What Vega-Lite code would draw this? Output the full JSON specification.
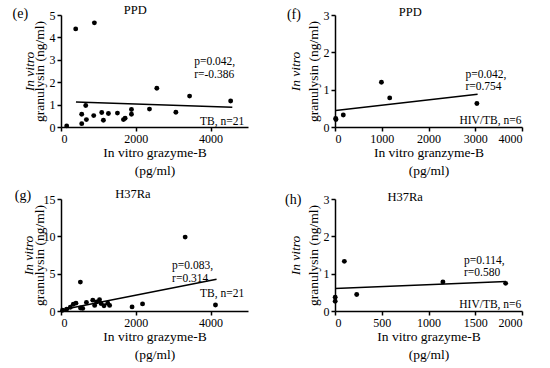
{
  "$schema": "https://vega.github.io/schema/vega-lite/v6.json",
  "background": "white",
  "padding": {"left": 12, "top": 4, "right": 5, "bottom": 5},
  "config": {
    "view": {"stroke": null},
    "font": "Liberation Serif",
    "axis": {"domainColor": "black", "domainWidth": 1.5, "tickColor": "black", "tickWidth": 1.5, "tickSize": 4, "labelColor": "black", "labelFont": "Liberation Serif", "labelFontSize": 12, "titleFont": "Liberation Serif", "titleFontSize": 13.5, "titleFontWeight": "normal", "titleColor": "black", "grid": false, "labelPadding": 2, "format": "d"},
    "text": {"font": "Liberation Serif", "color": "black", "fontSize": 11.5}
  },
  "datasets": {
    "e_pts": [
      {"x": 152, "y": 0.05}, {"x": 393, "y": 4.38}, {"x": 893, "y": 4.65}, {"x": 554, "y": 0.15}, {"x": 554, "y": 0.57},
      {"x": 661, "y": 0.96}, {"x": 679, "y": 0.33}, {"x": 875, "y": 0.51}, {"x": 1089, "y": 0.65}, {"x": 1134, "y": 0.3},
      {"x": 1268, "y": 0.6}, {"x": 1509, "y": 0.62}, {"x": 1670, "y": 0.33}, {"x": 1714, "y": 0.39}, {"x": 1884, "y": 0.78},
      {"x": 1884, "y": 0.57}, {"x": 2366, "y": 0.8}, {"x": 2562, "y": 1.73}, {"x": 3071, "y": 0.66}, {"x": 3438, "y": 1.38},
      {"x": 4536, "y": 1.16}
    ],
    "e_fit": [{"x": 400, "y": 1.12}, {"x": 4580, "y": 0.88}],
    "f_pts": [{"x": 14, "y": 0.23}, {"x": 20, "y": 0.2}, {"x": 177, "y": 0.32}, {"x": 993, "y": 1.2}, {"x": 1170, "y": 0.78}, {"x": 3035, "y": 0.63}],
    "f_fit": [{"x": 14, "y": 0.44}, {"x": 3050, "y": 0.88}],
    "g_pts": [
      {"x": 40, "y": 0.1}, {"x": 150, "y": 0.25}, {"x": 250, "y": 0.5}, {"x": 330, "y": 0.9}, {"x": 400, "y": 1.05},
      {"x": 518, "y": 3.87}, {"x": 520, "y": 0.4}, {"x": 580, "y": 0.35}, {"x": 680, "y": 1.15}, {"x": 850, "y": 1.45},
      {"x": 900, "y": 0.75}, {"x": 950, "y": 1.2}, {"x": 1030, "y": 1.5}, {"x": 1070, "y": 1.0}, {"x": 1150, "y": 0.7},
      {"x": 1250, "y": 1.05}, {"x": 1300, "y": 0.75}, {"x": 1900, "y": 0.55}, {"x": 2180, "y": 0.95}, {"x": 3320, "y": 9.9},
      {"x": 4130, "y": 0.8}
    ],
    "g_fit": [{"x": 60, "y": 0.2}, {"x": 4160, "y": 4.24}],
    "h_pts": [{"x": 2, "y": 0.37}, {"x": 2, "y": 0.26}, {"x": 100, "y": 1.33}, {"x": 232, "y": 0.44}, {"x": 1154, "y": 0.78}, {"x": 1825, "y": 0.74}],
    "h_fit": [{"x": 0, "y": 0.6}, {"x": 1830, "y": 0.79}]
  },
  "columns": 2,
  "spacing": {"row": 72, "column": 87},
  "bounds": "flush",
  "concat": [
    {
      "width": 187, "height": 112,
      "resolve": {"axis": {"y": "independent"}},
      "layer": [
        {"data": {"name": "e_pts"}, "mark": {"type": "point", "filled": true, "color": "black", "size": 24, "opacity": 1},
         "encoding": {
           "x": {"field": "x", "type": "quantitative", "scale": {"domain": [0, 5000], "nice": false}, "axis": {"values": [0, 1000, 2000, 3000, 4000, 5000], "title": ["In vitro grazyme-B", "(pg/ml)"], "titleLineHeight": 18, "titlePadding": 1}},
           "y": {"field": "y", "type": "quantitative", "scale": {"domain": [0, 5], "nice": false}, "axis": {"values": [0, 1, 2, 3, 4, 5], "title": "granulysin (ng/ml)", "titlePadding": 3}}}},
        {"data": {"name": "e_fit"}, "mark": {"type": "line", "color": "black", "strokeWidth": 1.5},
         "encoding": {
           "x": {"field": "x", "type": "quantitative"},
           "y": {"field": "y", "type": "quantitative", "axis": {"orient": "left", "title": "In vitro", "titleFontStyle": "italic", "labels": false, "ticks": false, "domain": false, "titlePadding": 25}}}},
        {"data": {"values": [{}]}, "mark": {"type": "text", "text": ["p=0.042,", "r=-0.386"], "align": "left", "baseline": "middle", "lineHeight": 12.5},
         "encoding": {"x": {"datum": 3560, "type": "quantitative"}, "y": {"datum": 2.9, "type": "quantitative", "axis": null}}},
        {"data": {"values": [{}]}, "mark": {"type": "text", "text": "TB, n=21", "align": "right", "baseline": "alphabetic"},
         "encoding": {"x": {"datum": 4900, "type": "quantitative"}, "y": {"datum": 0.08, "type": "quantitative", "axis": null}}},
        {"data": {"values": [{}]}, "mark": {"type": "text", "text": "PPD", "align": "center", "baseline": "alphabetic", "fontSize": 12.5},
         "encoding": {"x": {"datum": 1984, "type": "quantitative"}, "y": {"datum": 5.03, "type": "quantitative", "axis": null}}},
        {"data": {"values": [{}]}, "mark": {"type": "text", "text": "(e)", "align": "center", "baseline": "alphabetic", "fontSize": 14},
         "encoding": {"x": {"datum": -1086, "type": "quantitative"}, "y": {"datum": 4.85, "type": "quantitative", "axis": null}}}
      ]
    },
    {
      "width": 187, "height": 112,
      "resolve": {"axis": {"y": "independent"}},
      "layer": [
        {"data": {"name": "f_pts"}, "mark": {"type": "point", "filled": true, "color": "black", "size": 24, "opacity": 1},
         "encoding": {
           "x": {"field": "x", "type": "quantitative", "scale": {"domain": [0, 4000], "nice": false}, "axis": {"values": [0, 1000, 2000, 3000, 4000], "title": ["In vitro granzyme-B", "(pg/ml)"], "titleLineHeight": 18, "titlePadding": 1}},
           "y": {"field": "y", "type": "quantitative", "scale": {"domain": [0, 3], "nice": false}, "axis": {"values": [0, 1, 2, 3], "title": "granulysin (ng/ml)", "titlePadding": 3}}}},
        {"data": {"name": "f_fit"}, "mark": {"type": "line", "color": "black", "strokeWidth": 1.5},
         "encoding": {
           "x": {"field": "x", "type": "quantitative"},
           "y": {"field": "y", "type": "quantitative", "axis": {"orient": "left", "title": "In vitro", "titleFontStyle": "italic", "labels": false, "ticks": false, "domain": false, "titlePadding": 33}}}},
        {"data": {"values": [{}]}, "mark": {"type": "text", "text": ["p=0.042,", "r=0.754"], "align": "left", "baseline": "middle", "lineHeight": 12.5},
         "encoding": {"x": {"datum": 2790, "type": "quantitative"}, "y": {"datum": 1.4, "type": "quantitative", "axis": null}}},
        {"data": {"values": [{}]}, "mark": {"type": "text", "text": "HIV/TB, n=6", "align": "right", "baseline": "alphabetic"},
         "encoding": {"x": {"datum": 3990, "type": "quantitative"}, "y": {"datum": 0.07, "type": "quantitative", "axis": null}}},
        {"data": {"values": [{}]}, "mark": {"type": "text", "text": "PPD", "align": "center", "baseline": "alphabetic", "fontSize": 12.5},
         "encoding": {"x": {"datum": 1611, "type": "quantitative"}, "y": {"datum": 2.98, "type": "quantitative", "axis": null}}},
        {"data": {"values": [{}]}, "mark": {"type": "text", "text": "(f)", "align": "center", "baseline": "alphabetic", "fontSize": 14},
         "encoding": {"x": {"datum": -879, "type": "quantitative"}, "y": {"datum": 2.89, "type": "quantitative", "axis": null}}}
      ]
    },
    {
      "width": 187, "height": 112,
      "resolve": {"axis": {"y": "independent"}},
      "layer": [
        {"data": {"name": "g_pts"}, "mark": {"type": "point", "filled": true, "color": "black", "size": 24, "opacity": 1},
         "encoding": {
           "x": {"field": "x", "type": "quantitative", "scale": {"domain": [0, 5000], "nice": false}, "axis": {"values": [0, 1000, 2000, 3000, 4000, 5000], "title": ["In vitro grazyme-B", "(pg/ml)"], "titleLineHeight": 18, "titlePadding": 1}},
           "y": {"field": "y", "type": "quantitative", "scale": {"domain": [0, 15], "nice": false}, "axis": {"values": [0, 5, 10, 15], "title": "granulysin (ng/ml)", "titlePadding": -3}}}},
        {"data": {"name": "g_fit"}, "mark": {"type": "line", "color": "black", "strokeWidth": 1.5},
         "encoding": {
           "x": {"field": "x", "type": "quantitative"},
           "y": {"field": "y", "type": "quantitative", "axis": {"orient": "left", "title": "In vitro", "titleFontStyle": "italic", "labels": false, "ticks": false, "domain": false, "titlePadding": 26}}}},
        {"data": {"values": [{}]}, "mark": {"type": "text", "text": ["p=0.083,", "r=0.314"], "align": "left", "baseline": "middle", "lineHeight": 12.5},
         "encoding": {"x": {"datum": 2970, "type": "quantitative"}, "y": {"datum": 6.0, "type": "quantitative", "axis": null}}},
        {"data": {"values": [{}]}, "mark": {"type": "text", "text": "TB, n=21", "align": "right", "baseline": "alphabetic"},
         "encoding": {"x": {"datum": 4900, "type": "quantitative"}, "y": {"datum": 1.9, "type": "quantitative", "axis": null}}},
        {"data": {"values": [{}]}, "mark": {"type": "text", "text": "H37Ra", "align": "center", "baseline": "alphabetic", "fontSize": 12.5},
         "encoding": {"x": {"datum": 1922, "type": "quantitative"}, "y": {"datum": 15.1, "type": "quantitative", "axis": null}}},
        {"data": {"values": [{}]}, "mark": {"type": "text", "text": "(g)", "align": "center", "baseline": "alphabetic", "fontSize": 14},
         "encoding": {"x": {"datum": -1019, "type": "quantitative"}, "y": {"datum": 14.9, "type": "quantitative", "axis": null}}}
      ]
    },
    {
      "width": 187, "height": 112,
      "resolve": {"axis": {"y": "independent"}},
      "layer": [
        {"data": {"name": "h_pts"}, "mark": {"type": "point", "filled": true, "color": "black", "size": 24, "opacity": 1},
         "encoding": {
           "x": {"field": "x", "type": "quantitative", "scale": {"domain": [0, 2000], "nice": false}, "axis": {"values": [0, 500, 1000, 1500, 2000], "title": ["In vitro grazyme-B", "(pg/ml)"], "titleLineHeight": 18, "titlePadding": 1}},
           "y": {"field": "y", "type": "quantitative", "scale": {"domain": [0, 3], "nice": false}, "axis": {"values": [0, 1, 2, 3], "title": "granulysin (ng/ml)", "titlePadding": 3}}}},
        {"data": {"name": "h_fit"}, "mark": {"type": "line", "color": "black", "strokeWidth": 1.5},
         "encoding": {
           "x": {"field": "x", "type": "quantitative"},
           "y": {"field": "y", "type": "quantitative", "axis": {"orient": "left", "title": "In vitro", "titleFontStyle": "italic", "labels": false, "ticks": false, "domain": false, "titlePadding": 33}}}},
        {"data": {"values": [{}]}, "mark": {"type": "text", "text": ["p=0.114,", "r=0.580"], "align": "left", "baseline": "middle", "lineHeight": 12.5},
         "encoding": {"x": {"datum": 1380, "type": "quantitative"}, "y": {"datum": 1.34, "type": "quantitative", "axis": null}}},
        {"data": {"values": [{}]}, "mark": {"type": "text", "text": "HIV/TB, n=6", "align": "right", "baseline": "alphabetic"},
         "encoding": {"x": {"datum": 1993, "type": "quantitative"}, "y": {"datum": 0.07, "type": "quantitative", "axis": null}}},
        {"data": {"values": [{}]}, "mark": {"type": "text", "text": "H37Ra", "align": "center", "baseline": "alphabetic", "fontSize": 12.5},
         "encoding": {"x": {"datum": 750, "type": "quantitative"}, "y": {"datum": 2.95, "type": "quantitative", "axis": null}}},
        {"data": {"values": [{}]}, "mark": {"type": "text", "text": "(h)", "align": "center", "baseline": "alphabetic", "fontSize": 14},
         "encoding": {"x": {"datum": -447, "type": "quantitative"}, "y": {"datum": 2.87, "type": "quantitative", "axis": null}}}
      ]
    }
  ]
}
